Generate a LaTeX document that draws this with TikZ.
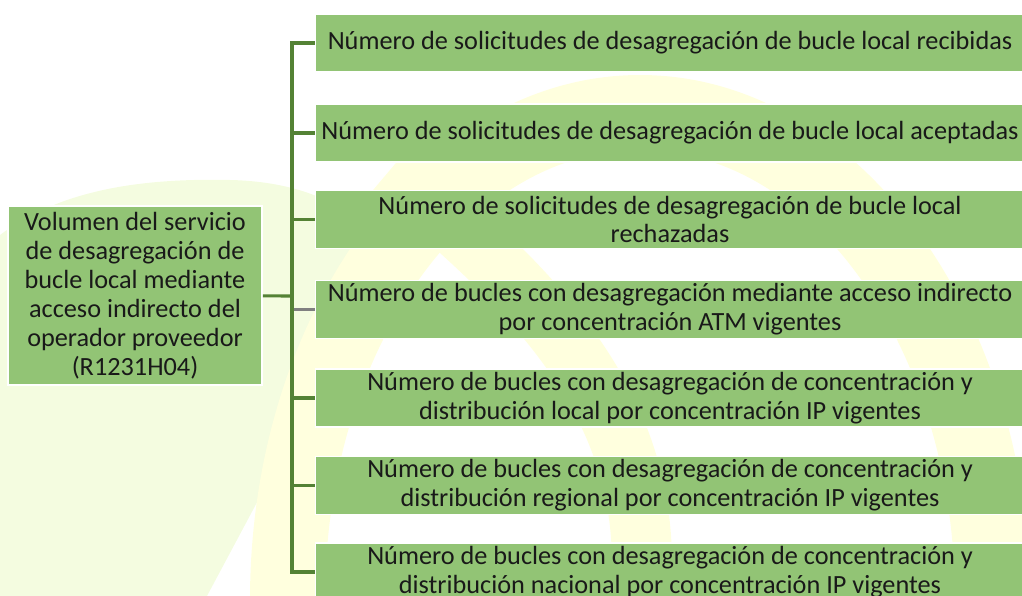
\documentclass[tikz,border=0pt]{standalone}
\usepackage{fontspec}
\setmainfont{Carlito}
\definecolor{verde}{RGB}{146,196,117}
\definecolor{verdeosc}{RGB}{84,130,53}
\definecolor{gris}{RGB}{128,128,128}
\definecolor{marcaam}{RGB}{255,255,222}
\definecolor{marcave}{RGB}{244,252,224}
\tikzset{
  caja/.style={rectangle, fill=verde, draw=white, line width=1.2pt, inner sep=0pt,
    align=center, text=black!90, font=\fontsize{19.7}{21.7}\selectfont},
  hoja/.style={caja, minimum width=532pt, minimum height=43.5pt},
  raiz/.style={caja, minimum width=190.5pt, minimum height=134pt},
  conector/.style={draw=verdeosc, line width=2.3pt},
}
\begin{document}
\begin{tikzpicture}[x=0.75pt, y=-0.75pt]
  \useasboundingbox (0,0) rectangle (1022,596);
  \clip (0,0) rectangle (1022,596);

  % marca de agua
  \fill[marcave] (0,235) .. controls (60,190) and (140,178) .. (230,180)
    .. controls (330,182) and (390,230) .. (380,280)
    .. controls (360,380) and (290,440) .. (262,493) -- (207,596) -- (0,596) -- cycle;
  \fill[marcaam, even odd rule] (640,600) ellipse [x radius=390, y radius=525]
    (640,600) ellipse [x radius=315, y radius=450];
  \draw[marcaam, line width=45pt] (390,170) .. controls (520,280) and (660,400) .. (640,600);

  \node[raiz] (V) at (135,295.5)
    {Volumen del servicio\\de desagregación de\\bucle local mediante\\acceso indirecto del\\operador proveedor\\(R1231H04)};

  \node[hoja] (N1) at (670,43)
    {Número de solicitudes de desagregación de bucle local recibidas};
  \node[hoja] (N2) at (670,133)
    {Número de solicitudes de desagregación de bucle local aceptadas};
  \node[hoja] (N3) at (670,219.5)
    {Número de solicitudes de desagregación de bucle local\\rechazadas};
  \node[hoja] (N4) at (670,309.5)
    {Número de bucles con desagregación mediante acceso indirecto\\por concentración ATM vigentes};
  \node[hoja] (N5) at (670,398)
    {Número de bucles con desagregación de concentración y\\distribución local por concentración IP vigentes};
  \node[hoja] (N6) at (670,485.5)
    {Número de bucles con desagregación de concentración y\\distribución regional por concentración IP vigentes};
  \node[hoja] (N7) at (670,572)
    {Número de bucles con desagregación de concentración y\\distribución nacional por concentración IP vigentes};

  \coordinate (T) at (292,296);
  \draw[draw=gris, line width=1.6pt] (T) |- (N4);
  \draw[conector] (V) -- (T);
  \foreach \n in {N1,N2,N3,N5,N6,N7}
    \draw[conector] (T) |- (\n);
\end{tikzpicture}
\end{document}
